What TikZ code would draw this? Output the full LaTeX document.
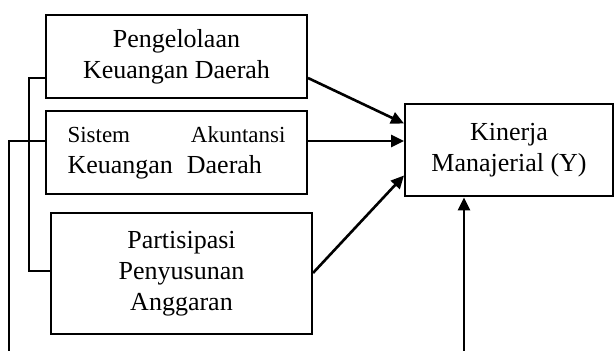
\documentclass[tikz,border=0pt]{standalone}
\usepackage{fontspec}
\setmainfont{Liberation Serif}
\usetikzlibrary{arrows.meta,calc}

\tikzset{
  varbox/.style={draw, line width=1pt, minimum width=130.5pt, minimum height=41.5pt,
    align=center, font=\fontsize{13}{15.5}\selectfont, inner sep=0pt},
  link/.style={line width=0.8pt},
  pengaruh/.style={->, >={Triangle[length=6.5pt,width=6pt]}, line width=1.3pt}
}

\begin{document}
\begin{tikzpicture}[x=0.5pt, y=-0.5pt]
    \useasboundingbox (0,0) rectangle (614,351);
    % variabel bebas
    \node[varbox] (peng) at (176.5,56.5) {Pengelolaan\\Keuangan Daerah};
    \node[varbox, align=left, text width=109pt] (sak) at (176.5,152.5)
      {{\fontsize{11.5}{15.5}\selectfont Sistem\hfill Akuntansi}\\Keuangan\hspace{7pt}Daerah};
    \node[varbox, minimum height=60.5pt] (ppa) at (181.5,273.5) {Partisipasi\\Penyusunan\\Anggaran};
    % variabel terikat
    \node[varbox, minimum width=104pt, minimum height=46pt] (kin) at (509,150.5) {Kinerja\\Manajerial (Y)};

    % garis kurung kiri
    \coordinate (b1) at (29,78);
    \coordinate (b2) at (29,271);
    \coordinate (c1) at (9,141);
    \coordinate (c2) at (9,351);
    \coordinate (m) at (464,351);
    \draw[link] (b1 -| peng.west) -- (b1) -- (b2) -- (b2 -| ppa.west);
    \draw[link] (c1 -| sak.west) -- (c1) -- (c2);

    % panah
    \draw[pengaruh] (b1 -| peng.east) -- ($(kin.west)+(0,-27)$);
    \draw[pengaruh] (c1 -| sak.east) -- (c1 -| kin.west);
    \draw[pengaruh] ($(ppa.east)+(0,-0.5)$) -- ($(kin.west)+(0,25)$);
    \draw[pengaruh] (m) -- (m |- kin.south);
  \end{tikzpicture}
\end{document}
